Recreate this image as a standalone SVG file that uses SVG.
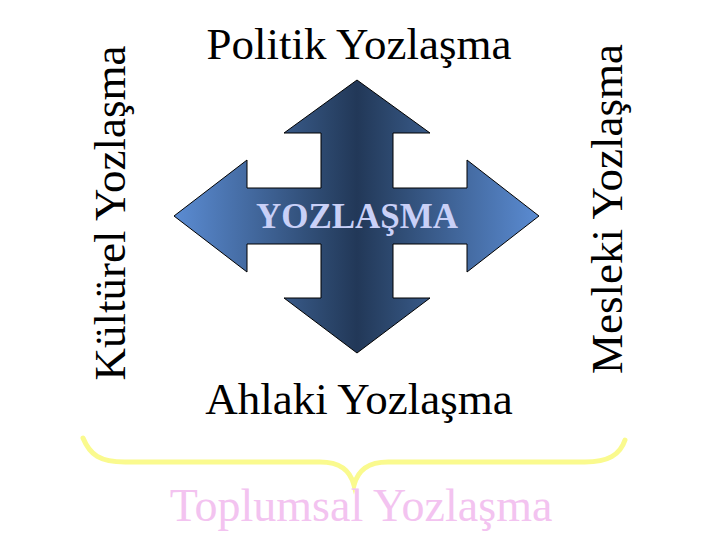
<svg xmlns="http://www.w3.org/2000/svg" width="720" height="540" viewBox="0 0 720 540">
<style>
.lbl{font-family:"Liberation Serif","Times New Roman",serif;font-size:45px;fill:#000;text-anchor:middle}
.core{font-family:"Liberation Serif","Times New Roman",serif;font-size:35px;font-weight:bold;fill:#c9d0f7;text-anchor:middle}
.sum{font-family:"Liberation Serif","Times New Roman",serif;font-size:46px;fill:#f3c3f0;text-anchor:middle}
</style>
<defs>
<linearGradient id="g" x1="174" y1="0" x2="540" y2="0" gradientUnits="userSpaceOnUse">
<stop offset="0" stop-color="#5b8cd3"/>
<stop offset="0.42" stop-color="#2b466b"/>
<stop offset="0.5" stop-color="#223858"/>
<stop offset="0.58" stop-color="#2b466b"/>
<stop offset="1" stop-color="#5b8cd3"/>
</linearGradient>
</defs>
<rect width="720" height="540" fill="#fff"/>
<g id="center">
<path d="M357,80 L430,133 L393,133 L393,188 L467,188 L467,160 L539,216 L467,272 L467,244 L393,244 L393,298 L430,298 L357,353 L284,298 L321,298 L321,244 L247,244 L247,272 L174,216 L247,160 L247,188 L321,188 L321,133 L284,133 Z" fill="url(#g)" stroke="#000" stroke-width="1"/>
<text class="core" x="357" y="228">YOZLAŞMA</text>
</g>
<g id="politik"><text class="lbl" x="359" y="59">Politik Yozlaşma</text></g>
<g id="ahlaki"><text class="lbl" x="359" y="414">Ahlaki Yozlaşma</text></g>
<g id="kulturel"><text class="lbl" transform="translate(125,213) rotate(-90)">Kültürel Yozlaşma</text></g>
<g id="mesleki"><text class="lbl" transform="translate(622,209) rotate(-90)">Mesleki Yozlaşma</text></g>
<g id="connectors">
<path d="M83,438 C90,455 100,462 125,462 L320,462 C340,462 350,470 354,485 C358,470 368,462 388,462 L585,462 C608,462 620,455 625,440" fill="none" stroke="#fafa8e" stroke-width="5" stroke-linecap="round"/>
</g>
<g id="toplumsal"><text class="sum" x="361" y="521">Toplumsal Yozlaşma</text></g>
</svg>
